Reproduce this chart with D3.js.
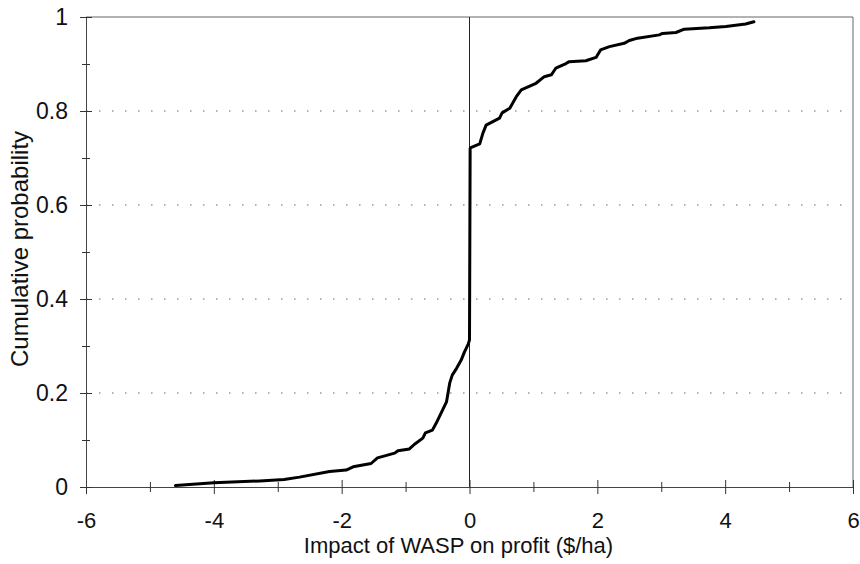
<!DOCTYPE html>
<html>
<head>
<meta charset="utf-8">
<script src="https://cdn.jsdelivr.net/npm/d3@7"></script>
<style>
  body { margin: 0; background: #fff; }
  text { font-family: "Liberation Sans", Arial, sans-serif; fill: #111; }
</style>
</head>
<body>
<script>
const width = 860;
const height = 564;

// impact on profit ($/ha) and cumulative probability
const impact = [
  -4.6, -4.0, -3.28, -2.9, -2.66, -2.19, -1.93, -1.82, -1.54, -1.44, -1.17, -1.12,
  -0.94, -0.86, -0.73, -0.69, -0.58, -0.52, -0.42, -0.36, -0.31, -0.27, -0.2,
  -0.13, -0.08, -0.02, 0.0, 0.01, 0.02, 0.16, 0.21, 0.26, 0.47, 0.51, 0.63, 0.73,
  0.81, 1.04, 1.17, 1.28, 1.35, 1.51, 1.56, 1.82, 1.98, 2.05, 2.19, 2.42, 2.5,
  2.63, 2.97, 3.02, 3.23, 3.36, 3.75, 4.01, 4.32, 4.45
];
const cumProb = [
  0.003, 0.009, 0.013, 0.016, 0.021, 0.033, 0.036, 0.043, 0.05, 0.062, 0.072, 0.077,
  0.081, 0.091, 0.104, 0.115, 0.121, 0.136, 0.164, 0.181, 0.221, 0.238, 0.253,
  0.27, 0.287, 0.304, 0.313, 0.72, 0.722, 0.73, 0.753, 0.77, 0.785, 0.796, 0.806, 0.83,
  0.845, 0.859, 0.873, 0.877, 0.891, 0.901, 0.905, 0.907, 0.914, 0.93, 0.937, 0.944, 0.95,
  0.955, 0.962, 0.965, 0.967, 0.974, 0.977, 0.98, 0.985, 0.99
];

const xTicks = [-6, -4, -2, 0, 2, 4, 6];
const xMinorTicks = [-5, -3, -1, 1, 3, 5];
const yTicks = [0, 0.2, 0.4, 0.6, 0.8, 1];
const yMinorTicks = [0.1, 0.3, 0.5, 0.7, 0.9];
const gridValues = [0.2, 0.4, 0.6, 0.8];

const xTitle = "Impact of WASP on profit ($/ha)";
const yTitle = "Cumulative probability";

const plotLeft = 86, plotRight = 853, plotTop = 17, plotBottom = 487;

const svg = d3.select("body").append("svg")
  .attr("width", width)
  .attr("height", height);

const x = d3.scaleLinear().domain([-6, 6]).range([plotLeft, plotRight]);
const y = d3.scaleLinear().domain([0, 1]).range([plotBottom, plotTop]);

// dotted gridlines
svg.append("g")
  .selectAll("line")
  .data(gridValues)
  .enter()
  .append("line")
  .attr("x1", plotLeft)
  .attr("x2", plotRight)
  .attr("y1", (d) => y(d))
  .attr("y2", (d) => y(d))
  .attr("stroke", "#666")
  .attr("stroke-width", 1.2)
  .attr("stroke-dasharray", "1.5,11.5");

// frame top and right
svg.append("line")
  .attr("x1", plotLeft).attr("x2", plotRight).attr("y1", plotTop).attr("y2", plotTop)
  .attr("stroke", "#666").attr("stroke-width", 1);
svg.append("line")
  .attr("x1", plotRight).attr("x2", plotRight).attr("y1", plotTop).attr("y2", plotBottom)
  .attr("stroke", "#666").attr("stroke-width", 1);

// zero line
svg.append("line")
  .attr("x1", x(0)).attr("x2", x(0))
  .attr("y1", plotTop).attr("y2", plotBottom)
  .attr("stroke", "#222").attr("stroke-width", 1);

// x axis (ticks cross the line)
const xAxis = svg.append("g")
  .attr("transform", "translate(0," + plotBottom + ")")
  .call(d3.axisBottom(x).tickValues(xTicks).tickSize(7).tickPadding(34).tickFormat((d) => String(d)));
xAxis.selectAll(".tick line").attr("y1", -7).attr("stroke", "#333");
xAxis.select(".domain").attr("stroke", "#444");
xAxis.selectAll("text").style("font-size", "22px").attr("dy", "0");

const xMinor = svg.append("g")
  .attr("transform", "translate(0," + plotBottom + ")")
  .call(d3.axisBottom(x).tickValues(xMinorTicks).tickSize(5).tickFormat(""));
xMinor.selectAll(".tick line").attr("y1", -5).attr("stroke", "#333");
xMinor.select(".domain").remove();

// y axis
const yAxis = svg.append("g")
  .attr("transform", "translate(" + plotLeft + ",0)")
  .call(d3.axisLeft(y).tickValues(yTicks).tickSize(6).tickPadding(12).tickFormat((d) => String(d)));
yAxis.selectAll(".tick line").attr("x1", 6).attr("x2", -6).attr("stroke", "#333");
yAxis.select(".domain").attr("stroke", "#444");
yAxis.selectAll("text").style("font-size", "23px");

const yMinor = svg.append("g")
  .attr("transform", "translate(" + plotLeft + ",0)")
  .call(d3.axisLeft(y).tickValues(yMinorTicks).tickSize(4).tickFormat(""));
yMinor.selectAll(".tick line").attr("x1", 4).attr("x2", -4).attr("stroke", "#333");
yMinor.select(".domain").remove();

// curve
const points = impact.map((v, i) => [v, cumProb[i]]);
const line = d3.line()
  .x((d) => x(d[0]))
  .y((d) => y(d[1]));

svg.append("path")
  .datum(points)
  .attr("d", line)
  .attr("fill", "none")
  .attr("stroke", "#000")
  .attr("stroke-width", 3)
  .attr("stroke-linejoin", "round")
  .attr("stroke-linecap", "round");

// titles
svg.append("text")
  .attr("x", (plotLeft + plotRight) / 2 - 11)
  .attr("y", 553)
  .attr("text-anchor", "middle")
  .style("font-size", "22px")
  .text(xTitle);

svg.append("text")
  .attr("transform", "translate(28,249) rotate(-90)")
  .attr("text-anchor", "middle")
  .style("font-size", "24px")
  .text(yTitle);
</script>
</body>
</html>
